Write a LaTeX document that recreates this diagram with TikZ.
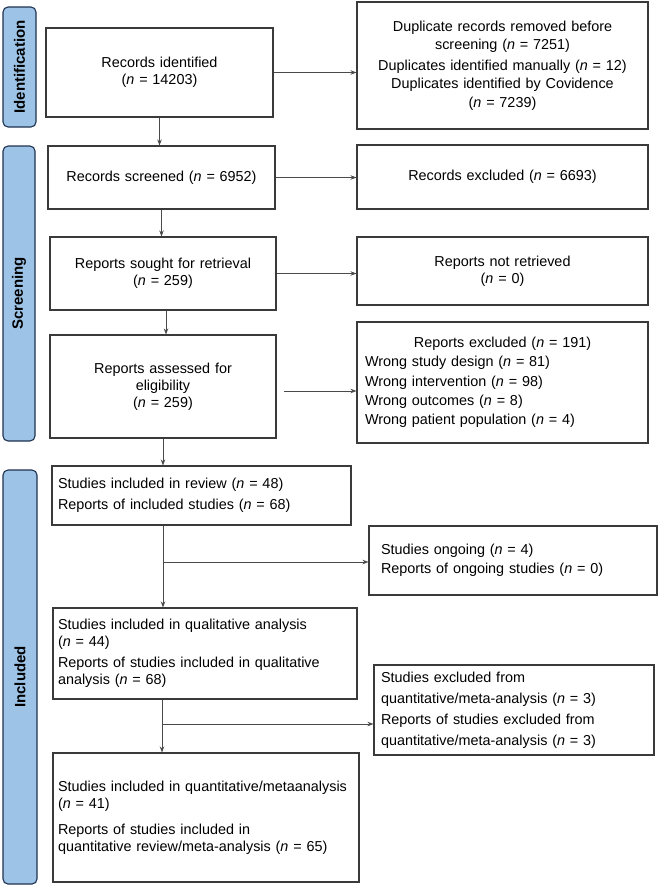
\documentclass[tikz,border=0pt]{standalone}
\usepackage{fontspec}
\setmainfont{Liberation Sans}
\usetikzlibrary{arrows.meta,calc}
\definecolor{boxline}{HTML}{3A3A3A}
\definecolor{arrline}{HTML}{4A4A4A}
\definecolor{sidefill}{HTML}{9DC3E6}
\definecolor{sideline}{HTML}{1F3350}
\begin{document}
\begin{tikzpicture}[x=1pt,y=-1pt,
  font=\fontsize{14.4}{17}\selectfont,
  box/.style={draw=boxline, line width=1.1pt, inner sep=0pt, inner xsep=6pt},
  arr/.style={draw=arrline, line width=0.8pt, -{Stealth[length=6pt,width=4.5pt]}},
  side/.style={draw=sideline, fill=sidefill, line width=1.1pt, rounded corners=5pt,
    rotate=90, font=\fontsize{15}{17}\selectfont\bfseries, inner sep=0pt}]
\useasboundingbox (0,0) rectangle (658,886);

% side labels
\node[side, minimum width=120pt, minimum height=33pt] (sid) at (19.5,67) {Identification};
\node[side, minimum width=295pt, minimum height=32pt] (sscr) at (19,293.5) {Screening};
\node[side, minimum width=414pt, minimum height=34pt] (sinc) at (20,677) {Included};

% left column
\node[box, minimum width=227pt, minimum height=89pt, text width=215pt, align=center] (id) at (159.5,72.5)
  {Records identified\\(\textit{n} = 14203)};
\node[box, minimum width=227pt, minimum height=63pt, text width=215pt, align=center] (scr) at (161.5,177.5)
  {Records screened (\textit{n} = 6952)};
\node[box, minimum width=226pt, minimum height=73pt, text width=214pt, align=center] (sought) at (163,273.5)
  {Reports sought for retrieval\\(\textit{n} = 259)};
\node[box, minimum width=226pt, minimum height=103pt, text width=214pt, align=center] (assess) at (163,386.5)
  {Reports assessed for\\eligibility\\(\textit{n} = 259)};
\node[box, minimum width=299pt, minimum height=59pt, text width=287pt, align=left] (review) at (201.5,495.5)
  {Studies included in review (\textit{n} = 48)\\[4pt]Reports of included studies (\textit{n} = 68)};
\node[box, inner xsep=5pt, minimum width=304pt, minimum height=91pt, text width=294pt, align=left] (qual) at (205,653.5)
  {Studies included in qualitative analysis\\(\textit{n} = 44)\\[4pt]Reports of studies included in qualitative\\analysis (\textit{n} = 68)};
\node[box, inner xsep=5pt, minimum width=306pt, minimum height=129pt, text width=296pt, align=left] (quant) at (206,817.5)
  {Studies included in quantitative/metaanalysis\\(\textit{n} = 41)\\[9pt]Reports of studies included in\\quantitative review/meta-analysis (\textit{n} = 65)};

% right column
\node[box, minimum width=291pt, minimum height=127pt, text width=279pt, align=center, font=\fontsize{14.4}{18.5}\selectfont] (dup) at (502.5,65.5)
  {Duplicate records removed before\\screening (\textit{n} = 7251)\\[2pt]Duplicates identified manually (\textit{n} = 12)\\Duplicates identified by Covidence\\(\textit{n} = 7239)};
\node[box, minimum width=291pt, minimum height=64pt, text width=279pt, align=center] (exc) at (502.5,177)
  {Records excluded (\textit{n} = 6693)};
\node[box, minimum width=291pt, minimum height=68pt, text width=279pt, align=center] (notret) at (502.5,271)
  {Reports not retrieved\\(\textit{n} = 0)};
\node[box, inner xsep=8pt, minimum width=291pt, minimum height=121pt, text width=275pt, align=left, font=\fontsize{14.4}{19.3}\selectfont] (repexc) at (502.5,382.5)
  {\makebox[\linewidth][c]{Reports excluded (\textit{n} = 191)}\\Wrong study design (\textit{n} = 81)\\Wrong intervention (\textit{n} = 98)\\Wrong outcomes (\textit{n} = 8)\\Wrong patient population (\textit{n} = 4)};
\node[box, inner xsep=12pt, minimum width=288pt, minimum height=69pt, text width=264pt, align=left, font=\fontsize{14.4}{19}\selectfont] (ongoing) at (513,560.5)
  {Studies ongoing (\textit{n} = 4)\\Reports of ongoing studies (\textit{n} = 0)};
\node[box, inner xsep=7pt, minimum width=280pt, minimum height=90pt, text width=266pt, align=left, font=\fontsize{14.4}{21}\selectfont] (qexc) at (514,710)
  {Studies excluded from\\quantitative/meta-analysis (\textit{n} = 3)\\Reports of studies excluded from\\quantitative/meta-analysis (\textit{n} = 3)};

% connectors
\draw[arr] (id.east) -- (id.east -| dup.west);
\draw[arr] (id.south) -- (id.south |- scr.north);
\draw[arr] (scr.east) -- (scr.east -| exc.west);
\draw[arr] (scr.south) -- (scr.south |- sought.north);
\draw[arr] (sought.east) -- (sought.east -| notret.west);
\coordinate (s1) at ([xshift=3pt]sought.south);
\draw[arr] (s1) -- (s1 |- assess.north);
\coordinate (a1) at ([shift={(7pt,-4.5pt)}]assess.east);
\draw[arr] (a1) -- (a1 -| repexc.west);
\draw[arr] (assess.south) -- (assess.south |- review.north);
\coordinate (r1) at (assess.south |- review.south);
\draw[arr] (r1) -- (r1 |- qual.north);
\coordinate (r2) at ($(r1 |- ongoing.west)+(0pt,-1.5pt)$);
\draw[arr] (r2) -- (r2 -| ongoing.west);
\coordinate (q1) at ([xshift=-1pt]assess.south |- qual.south);
\draw[arr] (q1) -- (q1 |- quant.north);
\coordinate (q2) at ($(q1 |- qexc.west)+(0pt,-14pt)$);
\draw[arr] (q2) -- (q2 -| qexc.west);
\end{tikzpicture}
\end{document}
